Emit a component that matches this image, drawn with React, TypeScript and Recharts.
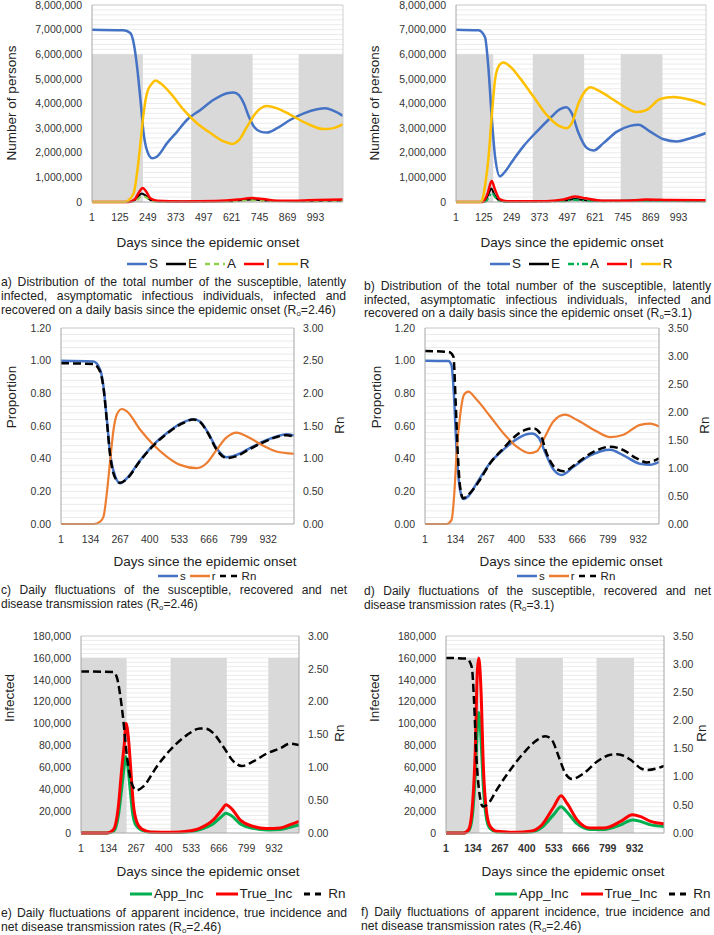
import React from 'react';
import { LineChart, Line, XAxis, YAxis, ReferenceArea, ReferenceLine, CartesianGrid } from 'recharts';

type Pt = [number, number];

// x ticks (days)
const daysTop = [1, 125, 249, 373, 497, 621, 745, 869, 993];
const daysLow = [1, 134, 267, 400, 533, 666, 799, 932];

// y ticks
const personsTicks = [0, 1, 2, 3, 4, 5, 6, 7, 8]; // millions
const propTicks = [0, 0.2, 0.4, 0.6, 0.8, 1.0, 1.2];
const rn300 = [0, 0.5, 1.0, 1.5, 2.0, 2.5, 3.0];
const rn350 = [0, 0.5, 1.0, 1.5, 2.0, 2.5, 3.0, 3.5];
const infTicks = [0, 20, 40, 60, 80, 100, 120, 140, 160, 180]; // thousands

// lockdown periods (day ranges)
const shadesA: Pt[] = [[1, 227], [441, 714], [918, 1115]];
const shadesB: Pt[] = [[1, 167], [343, 572], [735, 921]];
const shadesE: Pt[] = [[1, 221], [433, 704], [904, 1052]];
const shadesF: Pt[] = [[1, 166], [345, 578], [744, 929]];

// a) Ro=2.46, millions of persons
const aS: Pt[] = [[1, 7.0], [141, 6.97], [171, 6.86], [186, 6.45], [201, 5.5], [216, 4.15], [230, 2.8], [245, 2.1], [268, 1.78], [290, 1.85], [334, 2.39], [379, 2.86], [423, 3.34], [482, 3.74], [541, 4.15], [601, 4.42], [630, 4.45], [652, 4.35], [675, 4.0], [697, 3.47], [719, 3.07], [749, 2.86], [778, 2.82], [823, 3.0], [882, 3.34], [941, 3.6], [1000, 3.77], [1037, 3.81], [1074, 3.7], [1115, 3.5]];
const aE: Pt[] = [[1, 0], [170, 0], [200, 0.15], [222, 0.35], [240, 0.25], [260, 0.08], [300, 0.02], [600, 0.03], [710, 0.1], [780, 0.05], [900, 0.03], [1115, 0.06]];
const aA: Pt[] = [[1, 0], [175, 0], [205, 0.12], [225, 0.25], [242, 0.18], [262, 0.05], [300, 0.01], [600, 0.02], [710, 0.07], [780, 0.03], [1115, 0.04]];
const aI: Pt[] = [[1, 0], [160, 0], [190, 0.1], [210, 0.4], [226, 0.57], [240, 0.45], [260, 0.15], [290, 0.05], [400, 0.02], [550, 0.04], [650, 0.1], [710, 0.16], [760, 0.12], [820, 0.05], [900, 0.05], [1000, 0.08], [1115, 0.1]];
const aR: Pt[] = [[1, 0], [146, 0], [160, 0.05], [186, 0.36], [201, 1.18], [216, 2.4], [230, 3.6], [245, 4.42], [268, 4.82], [282, 4.93], [305, 4.82], [349, 4.42], [408, 3.74], [467, 3.2], [527, 2.8], [586, 2.46], [623, 2.36], [652, 2.5], [690, 3.07], [734, 3.68], [778, 3.9], [823, 3.8], [882, 3.54], [956, 3.18], [1030, 2.96], [1074, 3.0], [1115, 3.16]];

// b) Ro=3.1, millions of persons
const bS: Pt[] = [[1, 7.0], [101, 6.97], [130, 6.7], [145, 5.5], [160, 3.47], [175, 1.85], [197, 1.04], [220, 1.24], [257, 1.72], [301, 2.26], [361, 2.86], [420, 3.4], [465, 3.77], [492, 3.85], [517, 3.6], [547, 2.8], [584, 2.19], [614, 2.09], [658, 2.39], [718, 2.86], [777, 3.09], [814, 3.14], [866, 2.86], [926, 2.55], [985, 2.46], [1045, 2.59], [1115, 2.8]];
const bE: Pt[] = [[1, 0], [125, 0], [145, 0.3], [158, 0.55], [172, 0.3], [195, 0.06], [230, 0.02], [480, 0.05], [530, 0.12], [600, 0.05], [850, 0.06], [1115, 0.04]];
const bA: Pt[] = [[1, 0], [130, 0], [148, 0.2], [160, 0.38], [175, 0.2], [195, 0.04], [230, 0.01], [480, 0.03], [530, 0.08], [600, 0.03], [850, 0.04], [1115, 0.03]];
const bI: Pt[] = [[1, 0], [120, 0], [140, 0.3], [160, 0.85], [175, 0.5], [195, 0.12], [230, 0.03], [400, 0.03], [480, 0.1], [530, 0.22], [580, 0.15], [650, 0.05], [750, 0.05], [850, 0.1], [950, 0.08], [1115, 0.07]];
const bR: Pt[] = [[1, 0], [108, 0], [120, 0.15], [130, 0.64], [145, 1.72], [160, 3.47], [175, 4.96], [190, 5.5], [212, 5.66], [242, 5.5], [286, 5.03], [346, 4.28], [405, 3.54], [465, 3.07], [495, 3.0], [517, 3.2], [547, 4.01], [584, 4.58], [599, 4.66], [643, 4.49], [703, 4.15], [762, 3.81], [807, 3.65], [851, 3.74], [911, 4.18], [970, 4.26], [1045, 4.15], [1115, 3.95]];

// c) proportions and Rn, Ro=2.46
const cS: Pt[] = [[1, 1.0], [147, 0.995], [177, 0.945], [192, 0.84], [207, 0.64], [222, 0.43], [245, 0.29], [267, 0.25], [297, 0.28], [357, 0.39], [416, 0.485], [476, 0.556], [536, 0.613], [596, 0.642], [626, 0.628], [663, 0.556], [700, 0.464], [745, 0.409], [790, 0.423], [850, 0.464], [910, 0.505], [969, 0.536], [1014, 0.55], [1048, 0.542]];
const cR: Pt[] = [[1, 0], [147, 0], [177, 0.015], [192, 0.045], [207, 0.19], [222, 0.39], [237, 0.577], [252, 0.67], [274, 0.704], [297, 0.69], [357, 0.577], [416, 0.485], [476, 0.413], [536, 0.362], [611, 0.342], [655, 0.372], [700, 0.454], [745, 0.53], [790, 0.56], [850, 0.526], [910, 0.479], [969, 0.444], [1048, 0.43]];
const cRn: Pt[] = [[1, 2.46], [147, 2.45], [177, 2.33], [192, 2.08], [207, 1.58], [222, 1.05], [245, 0.7], [267, 0.63], [297, 0.69], [357, 0.97], [416, 1.2], [476, 1.38], [536, 1.52], [596, 1.6], [626, 1.56], [663, 1.38], [700, 1.14], [745, 1.01], [790, 1.04], [850, 1.15], [910, 1.25], [969, 1.33], [1014, 1.36], [1048, 1.34]];

// d) proportions and Rn, Ro=3.1
const dS: Pt[] = [[1, 1.0], [103, 0.998], [117, 0.97], [129, 0.745], [139, 0.44], [154, 0.21], [168, 0.153], [190, 0.17], [227, 0.25], [285, 0.374], [343, 0.455], [401, 0.52], [445, 0.55], [467, 0.554], [496, 0.53], [525, 0.44], [561, 0.335], [598, 0.3], [649, 0.35], [722, 0.42], [809, 0.455], [867, 0.42], [940, 0.368], [984, 0.362], [1022, 0.38]];
const dR: Pt[] = [[1, 0], [96, 0], [117, 0.025], [129, 0.19], [139, 0.434], [154, 0.66], [171, 0.79], [190, 0.81], [227, 0.76], [285, 0.66], [343, 0.556], [401, 0.474], [459, 0.434], [489, 0.445], [525, 0.536], [561, 0.628], [612, 0.67], [663, 0.638], [751, 0.566], [809, 0.532], [867, 0.546], [940, 0.607], [984, 0.614], [1022, 0.597]];
const dRn: Pt[] = [[1, 3.09], [105, 3.07], [125, 2.99], [135, 2.16], [144, 1.26], [154, 0.67], [168, 0.46], [197, 0.55], [241, 0.79], [285, 1.085], [343, 1.35], [401, 1.59], [438, 1.68], [474, 1.71], [503, 1.62], [532, 1.26], [569, 1.0], [605, 0.94], [663, 1.085], [736, 1.29], [809, 1.38], [867, 1.32], [925, 1.17], [969, 1.1], [1022, 1.17]];

// e) incidence (thousands) and Rn, Ro=2.46
const eApp: Pt[] = [[1, 0], [130, 0], [160, 2], [182, 17], [198, 42], [210, 62], [216, 70], [226, 62], [238, 40], [250, 18], [266, 7], [294, 2.5], [334, 0.7], [446, 0.4], [511, 1], [575, 3.2], [639, 8.5], [679, 15], [700, 18], [728, 15.5], [768, 8.5], [832, 4.2], [896, 2.8], [961, 3.2], [1009, 5.3], [1052, 7.4]];
const eTrue: Pt[] = [[1, 0], [125, 0], [157, 3], [181, 24], [197, 58], [210, 82], [218, 100], [229, 88], [241, 58], [253, 27], [269, 10.6], [294, 3.6], [334, 1], [446, 0.6], [511, 1.5], [575, 4.5], [639, 12], [679, 21], [700, 25.8], [728, 22], [768, 12], [832, 6], [896, 4], [961, 4.5], [1009, 7.6], [1052, 10.6]];
const eRn: Pt[] = [[1, 2.46], [157, 2.45], [173, 2.38], [189, 2.12], [205, 1.72], [221, 1.21], [245, 0.76], [269, 0.65], [302, 0.71], [366, 1.01], [430, 1.26], [511, 1.49], [575, 1.59], [599, 1.59], [639, 1.52], [688, 1.31], [736, 1.09], [776, 1.02], [832, 1.09], [896, 1.21], [961, 1.29], [1009, 1.36], [1052, 1.34]];

// f) incidence (thousands) and Rn
const fApp: Pt[] = [[1, 0], [90, 0], [115, 2.5], [130, 14], [146, 55], [157, 100], [163, 110], [172, 92], [186, 40], [202, 12], [219, 4], [252, 1], [351, 0.4], [417, 1], [475, 5.3], [533, 17], [569, 24], [599, 19], [648, 8.5], [714, 3.2], [780, 3.2], [863, 7.4], [921, 11.8], [962, 10.5], [1011, 7.4], [1077, 6]];
const fTrue: Pt[] = [[1, 0], [87, 0], [112, 3], [128, 18], [145, 73], [156, 149], [163, 160], [173, 134], [186, 58], [202, 18], [219, 6], [252, 1.5], [351, 0.6], [417, 1.5], [475, 7.6], [533, 24], [569, 34], [599, 27], [648, 12], [714, 4.5], [780, 4.5], [863, 10.6], [921, 16.7], [962, 15], [1011, 10.6], [1077, 8.5]];
const fRn: Pt[] = [[1, 3.11], [103, 3.1], [128, 2.95], [140, 2.3], [150, 1.42], [166, 0.71], [183, 0.47], [211, 0.53], [252, 0.77], [318, 1.12], [384, 1.42], [450, 1.65], [491, 1.72], [524, 1.65], [557, 1.36], [590, 1.06], [623, 0.96], [681, 1.06], [747, 1.27], [813, 1.39], [846, 1.4], [912, 1.3], [962, 1.15], [995, 1.12], [1044, 1.15], [1077, 1.19]];

const FONT = '"Liberation Sans", Arial, sans-serif';
const BLUE = '#4472C4';
const ORANGE = '#ED7D31';
const YELLOW = '#FFC000';
const RED = '#FF0000';
const GREEN = '#00B050';
const LIGHTGREEN = '#92D050';
const SHADE = '#D9D9D9';

const YW = 70;
const RW = 50;
const XH = 30;
const MT = 8;

interface Series {
  pts: Pt[];
  color: string;
  width: number;
  dash?: string;
  axis?: 'l' | 'r';
}

interface PanelProps {
  plotL: number;
  plotT: number;
  plotR: number;
  plotB: number;
  xMax: number;
  xTicks: number[];
  boldX?: boolean;
  yTicks: number[];
  yFmt: (v: number) => string;
  rTicks?: number[];
  shades?: Pt[];
  shadeTop?: number;
  series: Series[];
}

const fmtPersons = (v: number) => (v * 1000000).toLocaleString('en-US');
const fmtInf = (v: number) => (v * 1000).toLocaleString('en-US');
const fmt2 = (v: number) => v.toFixed(2);

function Panel(p: PanelProps) {
  const w = p.plotR - p.plotL;
  const h = p.plotB - p.plotT;
  const yMax = p.yTicks[p.yTicks.length - 1];
  // faint minor gridlines, 5 per major step
  const minor: number[] = [];
  for (let i = 0; i < p.yTicks.length - 1; i++) {
    const a = p.yTicks[i];
    const b = p.yTicks[i + 1];
    for (let k = 1; k <= 5; k++) minor.push(a + ((b - a) * k) / 5);
  }
  const tickStyle = { fill: '#333', fontSize: 10.5, fontFamily: FONT };
  return (
    <div style={{ position: 'absolute', left: p.plotL - YW, top: p.plotT - MT }}>
      <LineChart width={YW + w + RW} height={MT + h + XH} margin={{ top: MT, right: 0, bottom: 0, left: 0 }}>
        <CartesianGrid yAxisId="l" vertical={false} horizontalValues={minor} stroke="#ebebeb" />
        <XAxis
          type="number"
          dataKey="x"
          domain={[1, p.xMax]}
          ticks={p.xTicks}
          interval={0}
          height={XH}
          tickSize={0}
          tickMargin={12}
          tick={{ ...tickStyle, fontWeight: p.boldX ? 'bold' : 'normal' }}
          axisLine={{ stroke: '#a6a6a6' }}
          allowDataOverflow
        />
        <YAxis
          yAxisId="l"
          type="number"
          domain={[0, yMax]}
          ticks={p.yTicks}
          interval={0}
          width={YW}
          tickSize={0}
          tickMargin={10}
          tick={tickStyle}
          tickFormatter={p.yFmt}
          axisLine={{ stroke: '#a6a6a6' }}
        />
        {p.rTicks ? (
          <YAxis
            yAxisId="r"
            orientation="right"
            type="number"
            domain={[0, p.rTicks[p.rTicks.length - 1]]}
            ticks={p.rTicks}
            interval={0}
            width={RW}
            tickSize={0}
            tickMargin={9}
            tick={{ ...tickStyle, textAnchor: 'start' }}
            tickFormatter={fmt2}
            axisLine={{ stroke: '#a6a6a6' }}
          />
        ) : (
          <YAxis yAxisId="r" orientation="right" domain={[0, 1]} width={RW} tick={false} tickLine={false} axisLine={{ stroke: '#d0d0d0' }} />
        )}
        {(p.shades || []).map(([a, b]) => (
          <ReferenceArea key={'s' + a} yAxisId="l" x1={a} x2={b} y1={0} y2={p.shadeTop} fill={SHADE} fillOpacity={1} stroke="none" />
        ))}
        <ReferenceLine yAxisId="l" y={yMax} stroke="#d0d0d0" />
        {p.series.map((s, i) => (
          <Line
            key={i}
            yAxisId={s.axis || 'l'}
            data={s.pts.map(([x, y]) => ({ x, y }))}
            dataKey="y"
            type="monotone"
            dot={false}
            activeDot={false}
            stroke={s.color}
            strokeWidth={s.width}
            strokeDasharray={s.dash}
            isAnimationActive={false}
          />
        ))}
      </LineChart>
    </div>
  );
}

function Text({ x, y, children, rotate, size = 13.5 }: { x: number; y: number; children: React.ReactNode; rotate?: boolean; size?: number }) {
  return (
    <div
      style={{
        position: 'absolute',
        left: x,
        top: y,
        transform: `translate(-50%, -50%)${rotate ? ' rotate(-90deg)' : ''}`,
        whiteSpace: 'nowrap',
        fontSize: size,
        color: '#222',
        lineHeight: 1,
      }}
    >
      {children}
    </div>
  );
}

interface LegendItem {
  label: string;
  color: string;
  dash?: string;
}

function Legend({ x, y, items, lineW = 20, sw = 2.5, size = 13.5, gap = 8, h = 12 }: { x: number; y: number; items: LegendItem[]; lineW?: number; sw?: number; size?: number; gap?: number; h?: number }) {
  return (
    <div style={{ position: 'absolute', left: x, top: y - h / 2, height: h, display: 'flex', alignItems: 'center', fontSize: size, lineHeight: `${h}px`, color: '#222', whiteSpace: 'nowrap' }}>
      {items.map((it) => (
        <div key={it.label} style={{ display: 'flex', alignItems: 'center', marginRight: gap }}>
          <svg width={lineW} height={8} style={{ marginRight: 2 }}>
            <line x1={0} y1={4} x2={lineW} y2={4} stroke={it.color} strokeWidth={sw} strokeDasharray={it.dash} />
          </svg>
          <span>{it.label}</span>
        </div>
      ))}
    </div>
  );
}

const Ro = ({ v }: { v: string }) => (
  <>
    (R<span style={{ fontSize: '0.65em', verticalAlign: '-0.2em', lineHeight: 0 }}>o</span>={v})
  </>
);

function Caption({ x, y, w, lh, lines, size = 12.2 }: { x: number; y: number; w: number; lh: number; lines: React.ReactNode[]; size?: number }) {
  return (
    <div style={{ position: 'absolute', left: x, top: y - lh / 2, width: w, fontSize: size, lineHeight: `${lh}px`, color: '#222' }}>
      {lines.map((l, i) => {
        const last = i === lines.length - 1;
        return (
          <div key={i} style={{ textAlign: last ? 'left' : 'justify', textAlignLast: last ? 'left' : 'justify' }}>
            {l}
          </div>
        );
      })}
    </div>
  );
}

const legendSEAIR = (aColor: string, aDash: string): LegendItem[] => [
  { label: 'S', color: BLUE },
  { label: 'E', color: '#000' },
  { label: 'A', color: aColor, dash: aDash },
  { label: 'I', color: RED },
  { label: 'R', color: YELLOW },
];
const legendSR: LegendItem[] = [
  { label: 's', color: BLUE },
  { label: 'r', color: ORANGE },
  { label: 'Rn', color: '#000', dash: '6 5' },
];
const legendInc: LegendItem[] = [
  { label: 'App_Inc', color: GREEN },
  { label: 'True_Inc', color: RED },
  { label: 'Rn', color: '#000', dash: '6 5' },
];

export default function App() {
  return (
    <div style={{ position: 'absolute', left: 0, top: 0, width: 714, height: 935, background: '#fff', fontFamily: FONT, overflow: 'hidden' }}>
      {/* a */}
      <Panel
        plotL={92} plotT={5} plotR={343} plotB={202}
        xMax={1115} xTicks={daysTop}
        yTicks={personsTicks} yFmt={fmtPersons}
        shades={shadesA} shadeTop={6}
        series={[
          { pts: aS, color: BLUE, width: 2.5 },
          { pts: aE, color: '#000', width: 2 },
          { pts: aA, color: LIGHTGREEN, width: 2, dash: '5 4' },
          { pts: aI, color: RED, width: 2.5 },
          { pts: aR, color: YELLOW, width: 2.5 },
        ]}
      />
      <Text x={12} y={103} rotate>Number of persons</Text>
      <Text x={208} y={243}>Days since the epidemic onset</Text>
      <Legend x={127} y={264} items={legendSEAIR(LIGHTGREEN, '5 4')} />
      <Caption x={1} y={282} w={345} lh={14} lines={[
        'a) Distribution of the total number of the susceptible, latently',
        'infected, asymptomatic infectious individuals, infected and',
        <>recovered on a daily basis since the epidemic onset <Ro v="2.46" /></>,
      ]} />

      {/* b */}
      <Panel
        plotL={456} plotT={5} plotR={706} plotB={202}
        xMax={1115} xTicks={daysTop}
        yTicks={personsTicks} yFmt={fmtPersons}
        shades={shadesB} shadeTop={6}
        series={[
          { pts: bS, color: BLUE, width: 2.5 },
          { pts: bE, color: '#000', width: 2 },
          { pts: bA, color: GREEN, width: 2, dash: '6 3 2 3' },
          { pts: bI, color: RED, width: 2.5 },
          { pts: bR, color: YELLOW, width: 2.5 },
        ]}
      />
      <Text x={375} y={103} rotate>Number of persons</Text>
      <Text x={572} y={243}>Days since the epidemic onset</Text>
      <Legend x={490} y={264} items={legendSEAIR(GREEN, '6 3 2 3')} />
      <Caption x={364} y={287} w={347} lh={13.5} lines={[
        'b) Distribution of the total number of the susceptible, latently',
        'infected, asymptomatic infectious individuals, infected and',
        <>recovered on a daily basis since the epidemic onset <Ro v="3.1" /></>,
      ]} />

      {/* c */}
      <Panel
        plotL={61} plotT={328} plotR={294} plotB={524}
        xMax={1048} xTicks={daysLow}
        yTicks={propTicks} yFmt={fmt2} rTicks={rn300}
        series={[
          { pts: cS, color: BLUE, width: 2.5 },
          { pts: cR, color: ORANGE, width: 2.2 },
          { pts: cRn, color: '#000', width: 2.5, dash: '8 4', axis: 'r' },
        ]}
      />
      <Text x={12} y={397} rotate>Proportion</Text>
      <Text x={340} y={425} rotate>Rn</Text>
      <Text x={205} y={562}>Days since the epidemic onset</Text>
      <Legend x={158} y={575.5} items={legendSR} size={11.5} gap={4} h={10} />
      <Caption x={1} y={589.5} w={346} lh={14} size={12} lines={[
        'c) Daily fluctuations of the susceptible, recovered and net',
        <>disease transmission rates <Ro v="2.46" /></>,
      ]} />

      {/* d */}
      <Panel
        plotL={425} plotT={328} plotR={659} plotB={524}
        xMax={1022} xTicks={daysLow}
        yTicks={propTicks} yFmt={fmt2} rTicks={rn350}
        series={[
          { pts: dS, color: BLUE, width: 2.5 },
          { pts: dR, color: ORANGE, width: 2.2 },
          { pts: dRn, color: '#000', width: 2.5, dash: '8 4', axis: 'r' },
        ]}
      />
      <Text x={377} y={397} rotate>Proportion</Text>
      <Text x={705} y={425} rotate>Rn</Text>
      <Text x={571} y={562}>Days since the epidemic onset</Text>
      <Legend x={517} y={576} items={legendSR} size={11.5} gap={4} h={10} />
      <Caption x={364} y={590.5} w={347} lh={14} size={12} lines={[
        'd) Daily fluctuations of the susceptible, recovered and net',
        <>disease transmission rates <Ro v="3.1" /></>,
      ]} />

      {/* e */}
      <Panel
        plotL={81} plotT={636} plotR={299} plotB={833}
        xMax={1052} xTicks={daysLow}
        yTicks={infTicks} yFmt={fmtInf} rTicks={rn300}
        shades={shadesE} shadeTop={160}
        series={[
          { pts: eApp, color: GREEN, width: 3 },
          { pts: eTrue, color: RED, width: 3 },
          { pts: eRn, color: '#000', width: 2.5, dash: '8 4', axis: 'r' },
        ]}
      />
      <Text x={10} y={698} rotate>Infected</Text>
      <Text x={340} y={733} rotate>Rn</Text>
      <Text x={208} y={872}>Days since the epidemic onset</Text>
      <Legend x={130} y={894} items={legendInc} lineW={22} sw={3} gap={12} />
      <Caption x={1} y={913} w={346} lh={14} lines={[
        'e) Daily fluctuations of apparent incidence, true incidence and',
        <>net disease transmission rates <Ro v="2.46" /></>,
      ]} />

      {/* f */}
      <Panel
        plotL={446} plotT={636} plotR={664} plotB={833}
        xMax={1077} xTicks={daysLow} boldX
        yTicks={infTicks} yFmt={fmtInf} rTicks={rn350}
        shades={shadesF} shadeTop={160}
        series={[
          { pts: fApp, color: GREEN, width: 3 },
          { pts: fTrue, color: RED, width: 3 },
          { pts: fRn, color: '#000', width: 2.5, dash: '8 4', axis: 'r' },
        ]}
      />
      <Text x={375} y={698} rotate>Infected</Text>
      <Text x={702} y={733} rotate>Rn</Text>
      <Text x={573} y={872}>Days since the epidemic onset</Text>
      <Legend x={495} y={894} items={legendInc} lineW={22} sw={3} gap={12} />
      <Caption x={361} y={912} w={349} lh={14} lines={[
        'f) Daily fluctuations of apparent incidence, true incidence and',
        <>net disease transmission rates <Ro v="2.46" /></>,
      ]} />
    </div>
  );
}
